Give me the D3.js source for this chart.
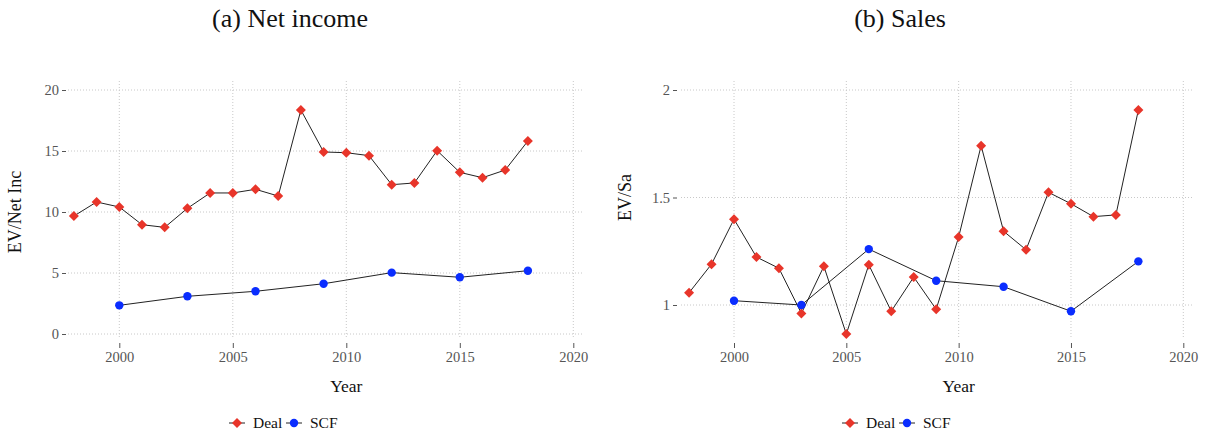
<!DOCTYPE html>
<html><head><meta charset="utf-8">
<script src="https://cdn.jsdelivr.net/npm/d3@7"></script>
<style>
body{margin:0;background:#fff;}
svg{display:block;}
svg text{font-family:"Liberation Serif","Times New Roman",serif !important;}
</style></head>
<body><svg id="c" width="1209" height="434"></svg>
<script>
// ---- data ----
const dealYears = [1998,1999,2000,2001,2002,2003,2004,2005,2006,2007,2008,2009,2010,2011,2012,2013,2014,2015,2016,2017,2018];
const scfYears = [2000,2003,2006,2009,2012,2015,2018];
const dealNetIncome = [9.67,10.82,10.41,8.96,8.74,10.3,11.56,11.56,11.86,11.31,18.36,14.92,14.86,14.62,12.24,12.38,15.03,13.25,12.81,13.44,15.82];
const scfNetIncome = [2.35,3.09,3.5,4.12,5.03,4.65,5.19];
const dealSales = [1.057,1.19,1.399,1.223,1.171,0.961,1.18,0.865,1.187,0.971,1.13,0.98,1.316,1.741,1.343,1.257,1.524,1.471,1.411,1.419,1.907];
const scfSales = [1.02,1.0,1.26,1.113,1.085,0.971,1.203];
const xTicks = [2000,2005,2010,2015,2020];
const yTicksNet = [0,5,10,15,20];
const yTicksSales = [1,1.5,2];
const yTickLabelsSales = ["1","1.5","2"];
const titles = ["(a) Net income","(b) Sales"];
const yTitles = ["EV/Net Inc","EV/Sa"];
const seriesNames = ["Deal","SCF"];

const RED = "#e8352a", BLUE = "#0a2dff", GRIDC = "#c8c8c8", TICKC = "#555";

const svg = d3.select("#c");

const panels = [
  {title:titles[0], ytitle:yTitles[0], deal:dealNetIncome, scf:scfNetIncome,
   x:d3.scaleLinear().domain([2000,2020]).range([119.3,573.3]),
   y:d3.scaleLinear().domain([0,20]).range([334,90]),
   yTicks:yTicksNet, yFmt:d=>String(d),
   gridL:68, gridR:582, yAxisX:66, ytitleX:15, titleX:290, legendX:229},
  {title:titles[1], ytitle:yTitles[1], deal:dealSales, scf:scfSales,
   x:d3.scaleLinear().domain([2000,2020]).range([734,1183.3]),
   y:d3.scaleLinear().domain([1,2]).range([305,90]),
   yTicks:yTicksSales, yFmt:(d,i)=>yTickLabelsSales[i],
   gridL:681, gridR:1193, yAxisX:677, ytitleX:625, titleX:900, legendX:842}
];

panels.forEach(p=>{
  const g = svg.append("g");
  g.append("text").attr("x",p.titleX).attr("y",27).attr("text-anchor","middle")
    .attr("font-size",26).attr("fill","#111").text(p.title);
  g.selectAll(".hg").data(p.yTicks).join("line")
    .attr("x1",p.gridL).attr("x2",p.gridR)
    .attr("y1",d=>p.y(d)).attr("y2",d=>p.y(d))
    .attr("stroke",GRIDC).attr("stroke-width",1).attr("stroke-dasharray","1,2");
  g.selectAll(".vg").data(xTicks).join("line")
    .attr("x1",d=>p.x(d)).attr("x2",d=>p.x(d))
    .attr("y1",81).attr("y2",338)
    .attr("stroke",GRIDC).attr("stroke-width",1).attr("stroke-dasharray","1,2");
  const ya = d3.axisLeft(p.y).tickValues(p.yTicks).tickFormat(p.yFmt).tickSize(4).tickPadding(3);
  const yg = g.append("g").attr("transform",`translate(${p.yAxisX},0)`).call(ya);
  yg.select(".domain").remove();
  yg.selectAll("line").attr("stroke",TICKC);
  yg.selectAll("text").attr("font-size",14.5).attr("fill",TICKC);
  const xa = d3.axisBottom(p.x).tickValues(xTicks).tickFormat(d3.format("d")).tickSize(5).tickPadding(4);
  const xg = g.append("g").attr("transform",`translate(0,343)`).call(xa);
  xg.select(".domain").remove();
  xg.selectAll("line").attr("stroke",TICKC);
  xg.selectAll("text").attr("font-size",14.5).attr("fill",TICKC);
  g.append("text").attr("x",(p.x(2000)+p.x(2020))/2).attr("y",392).attr("text-anchor","middle")
    .attr("font-size",17.5).attr("fill","#111").text("Year");
  g.append("text").attr("transform",`translate(${p.ytitleX+6},${(p.y.range()[0]+p.y.range()[1])/2}) rotate(-90)`)
    .attr("text-anchor","middle").attr("font-size",18).attr("fill","#111").text(p.ytitle);
  const line = d3.line();
  g.append("path").attr("d",line(dealYears.map((yr,i)=>[p.x(yr),p.y(p.deal[i])])))
    .attr("fill","none").attr("stroke","#222").attr("stroke-width",1);
  g.append("path").attr("d",line(scfYears.map((yr,i)=>[p.x(yr),p.y(p.scf[i])])))
    .attr("fill","none").attr("stroke","#222").attr("stroke-width",1);
  const diamond = d3.symbol().type(d3.symbolSquare).size(50);
  g.selectAll(".dm").data(dealYears).join("path")
    .attr("d",diamond())
    .attr("transform",(d,i)=>`translate(${p.x(d)},${p.y(p.deal[i])}) rotate(45)`)
    .attr("fill",RED);
  g.selectAll(".sc").data(scfYears).join("circle")
    .attr("cx",d=>p.x(d)).attr("cy",(d,i)=>p.y(p.scf[i])).attr("r",4.2)
    .attr("fill",BLUE);
  const lx = p.legendX, ly = 423;
  const lg = g.append("g");
  lg.append("line").attr("x1",lx).attr("x2",lx+16).attr("y1",ly).attr("y2",ly).attr("stroke","#222");
  lg.append("path").attr("d",diamond()).attr("transform",`translate(${lx+8},${ly}) rotate(45)`).attr("fill",RED);
  lg.append("text").attr("x",lx+24).attr("y",ly+5).attr("font-size",15.5).attr("fill","#111").text(seriesNames[0]);
  lg.append("line").attr("x1",lx+57).attr("x2",lx+73).attr("y1",ly).attr("y2",ly).attr("stroke","#222");
  lg.append("circle").attr("cx",lx+65).attr("cy",ly).attr("r",4.2).attr("fill",BLUE);
  lg.append("text").attr("x",lx+81).attr("y",ly+5).attr("font-size",15.5).attr("fill","#111").text(seriesNames[1]);
});
</script></body></html>
